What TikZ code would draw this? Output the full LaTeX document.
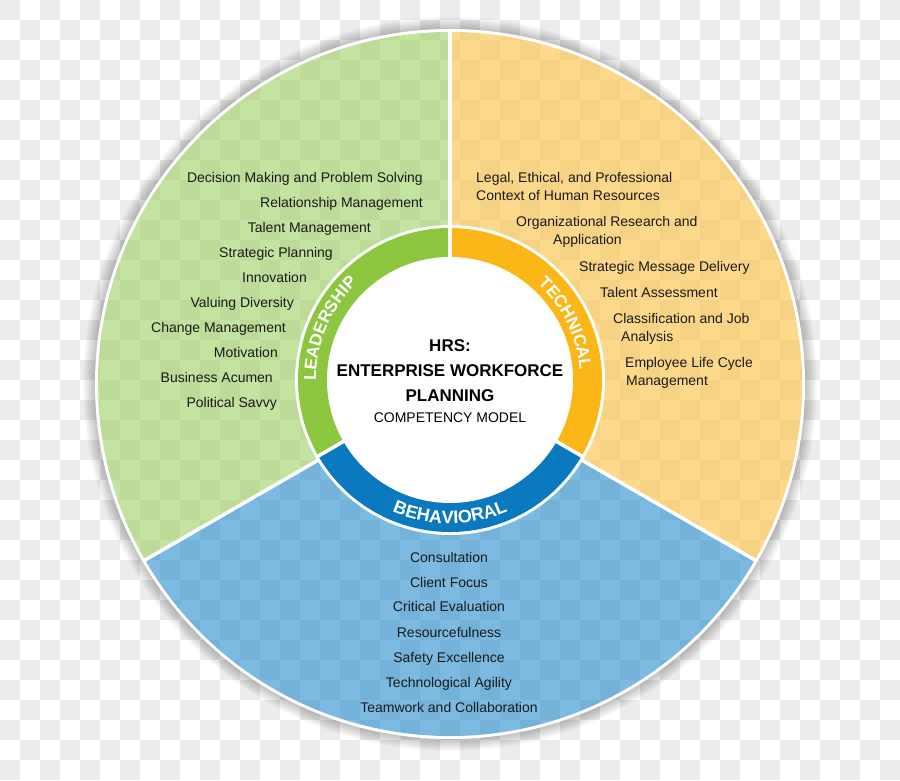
\documentclass[tikz,border=0pt]{standalone}
\usepackage{fontspec}
\setmainfont{Liberation Sans}
\usetikzlibrary{calc,decorations.text}
\definecolor{checkgray}{RGB}{236,236,236}
\definecolor{secG}{RGB}{158,207,97}
\definecolor{secY}{RGB}{253,193,63}
\definecolor{secB}{RGB}{37,140,207}
\definecolor{ringG}{RGB}{141,198,63}
\definecolor{ringY}{RGB}{251,182,23}
\definecolor{ringB}{RGB}{10,121,191}
\definecolor{ink}{RGB}{26,26,26}
\newcommand{\ringfont}{\fontsize{17}{17}\selectfont\bfseries\color{white}}
\newcommand{\ringfontB}{\fontsize{18}{18}\selectfont\bfseries\color{white}}
\tikzset{
  item/.style={font=\fontsize{14}{17}\selectfont, text=ink, inner sep=0pt},
  itemL/.style={item, anchor=base east},
  itemR/.style={item, anchor=base west},
  itemB/.style={item, anchor=base},
  titlebold/.style={font=\fontsize{17}{20}\selectfont\bfseries, text=black, inner sep=0pt, anchor=base},
  titleplain/.style={font=\fontsize{14}{17}\selectfont, text=black, inner sep=0pt, anchor=base},
  sector/.style={fill opacity=0.6},
  divider/.style={white, line width=3.5pt},
}
\begin{document}
\begin{tikzpicture}[x=1pt,y=1pt]
\useasboundingbox (0,0) rectangle (900,780);
% checkerboard background
\fill[white] (0,0) rectangle (900,780);
\foreach \i in {0,...,44}{
  \foreach \j in {0,...,38}{
    \pgfmathparse{int(mod(\i+\j,2))}
    \ifnum\pgfmathresult=0
      \fill[checkgray] (20*\i,780-20*\j) rectangle ++(20,-20);
    \fi
  }
}
\coordinate (O) at (450,396);
\coordinate (C) at (450,400);
% soft shadow
\foreach \k in {1,...,12}{
  \fill[black, opacity=0.018, even odd rule] (O) circle (355+\k) (O) circle (354);
}
% outer white border
\draw[white, line width=3pt] (O) circle (353.5);
% sectors
\fill[secG, sector] (O) -- ++(90:352) arc[start angle=90, end angle=210, radius=352] -- cycle;
\fill[secB, sector] (O) -- ++(210:352) arc[start angle=210, end angle=330, radius=352] -- cycle;
\fill[secY, sector] (O) -- ++(330:352) arc[start angle=330, end angle=450, radius=352] -- cycle;
% dividers
\draw[divider] (O) -- ++(90:354);
\draw[divider] (O) -- ++(210:354);
\draw[divider] (O) -- ++(330:354);
% inner ring
\fill[white] (C) circle (155);
\fill[ringG] (C) -- ++(90:152) arc[start angle=90, end angle=210, radius=152] -- cycle;
\fill[ringB] (C) -- ++(210:152) arc[start angle=210, end angle=330, radius=152] -- cycle;
\fill[ringY] (C) -- ++(330:152) arc[start angle=330, end angle=450, radius=152] -- cycle;
\draw[divider] (C) -- ++(90:155);
\draw[divider] (C) -- ++(210:155);
\draw[divider] (C) -- ++(330:155);
\fill[white] (C) circle (123);
% ring labels
\path[decorate, decoration={text along path, text align=center, text={|\ringfont|LEADERSHIP}}]
  ($(C)+(202:134)$) arc[start angle=202, end angle=112, radius=134];
\path[decorate, decoration={text along path, text align=center, text={|\ringfont|TECHNICAL}}]
  ($(C)+(70:130)$) arc[start angle=70, end angle=-18, radius=130];
\path[decorate, decoration={text along path, text align=center, text={|\ringfontB|BEHAVIORAL}}]
  ($(C)+(225:143.5)$) arc[start angle=225, end angle=315, radius=143.5];
% centre title
\node[titlebold] (t1) at (450,428) {HRS:};
\node[titlebold] (t2) at (450,403) {ENTERPRISE WORKFORCE};
\node[titlebold] (t3) at (450,378) {PLANNING};
\node[titleplain] (t4) at (450,357) {COMPETENCY MODEL};
% leadership list
\node[itemL] (l1) at (423,597) {Decision Making and Problem Solving};
\node[itemL] (l2) at (423,572) {Relationship Management};
\node[itemL] (l3) at (371,547) {Talent Management};
\node[itemL] (l4) at (333,522) {Strategic Planning};
\node[itemL] (l5) at (307,497) {Innovation};
\node[itemL] (l6) at (294,472) {Valuing Diversity};
\node[itemL] (l7) at (286,447) {Change Management};
\node[itemL] (l8) at (278,422) {Motivation};
\node[itemL] (l9) at (273,397) {Business Acumen};
\node[itemL] (l10) at (277,372) {Political Savvy};
% technical list
\node[itemR] (r1a) at (476,597) {Legal, Ethical, and Professional};
\node[itemR] (r1b) at (476,579) {Context of Human Resources};
\node[itemR] (r2a) at (516,553) {Organizational Research and};
\node[itemR] (r2b) at (553,535) {Application};
\node[itemR] (r3) at (579,508) {Strategic Message Delivery};
\node[itemR] (r4) at (600,482) {Talent Assessment};
\node[itemR] (r5a) at (613,456) {Classification and Job};
\node[itemR] (r5b) at (621,438) {Analysis};
\node[itemR] (r6a) at (625,412) {Employee Life Cycle};
\node[itemR] (r6b) at (626,394) {Management};
% behavioral list
\node[itemB] (b1) at (449,218) {Consultation};
\node[itemB] (b2) at (449,193) {Client Focus};
\node[itemB] (b3) at (449,168) {Critical Evaluation};
\node[itemB] (b4) at (449,143) {Resourcefulness};
\node[itemB] (b5) at (449,118) {Safety Excellence};
\node[itemB] (b6) at (449,93) {Technological Agility};
\node[itemB] (b7) at (449,68) {Teamwork and Collaboration};
\end{tikzpicture}
\end{document}
